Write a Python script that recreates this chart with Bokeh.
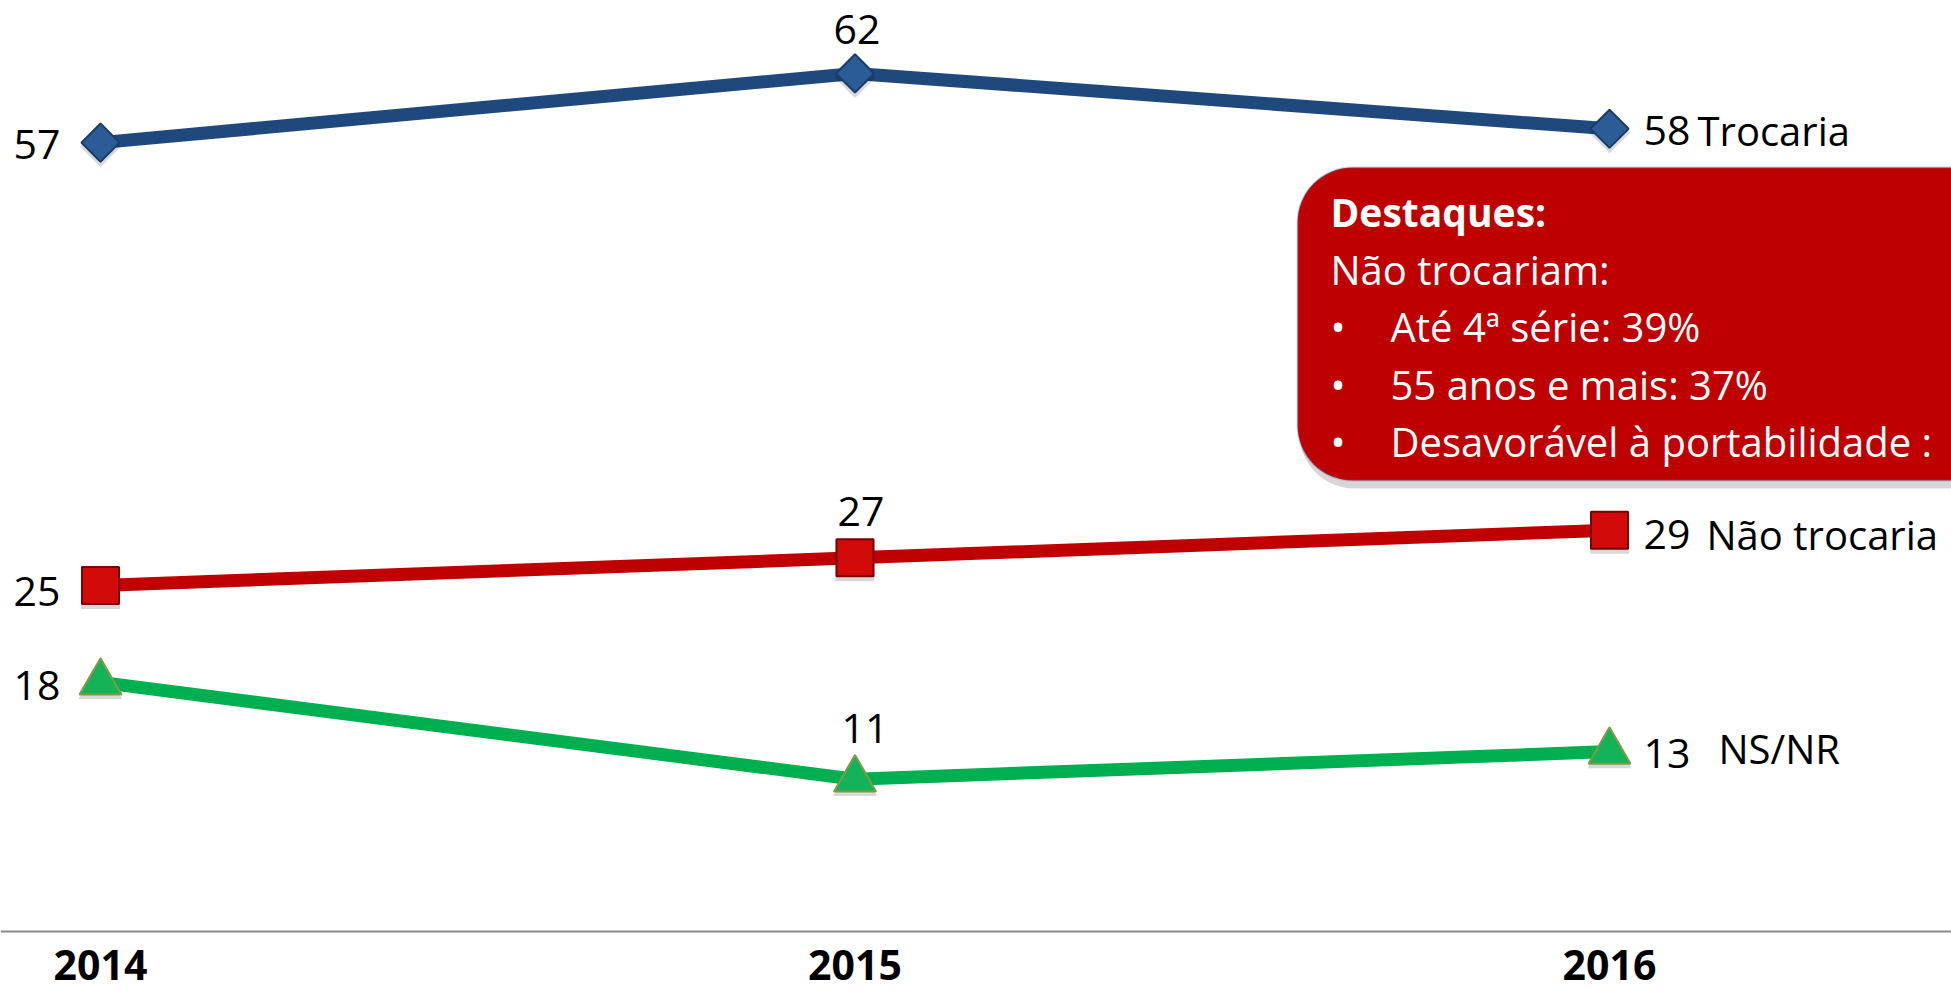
import math
from bokeh.plotting import figure
from bokeh.models import Range1d, FixedTicker, LinearAxis, BoxAnnotation, Label
from bokeh.core.properties import value
from bokeh.embed import file_html
from bokeh.resources import INLINE

# ---------------- data ----------------
years = [2014, 2015, 2016]
series_names = ["Trocaria", "Não trocaria", "NS/NR"]
trocaria = [57, 62, 58]
nao_trocaria = [25, 27, 29]
ns_nr = [18, 11, 13]
box_title = "Destaques:"
box_subtitle = "Não trocariam:"
box_bullets = ["Até 4ª série: 39%", "55 anos e mais: 37%", "Desavorável à portabilidade :"]

# ---------------- layout helpers (reference pixel -> data) ----------------
W, H = 1951, 997
PX_2014, PX_PER_YEAR = 100.0, 754.5
PY_ZERO, PX_PER_UNIT = 931.0, 13.84
TXT_DY = -14  # correction of the alphabetic baseline placement

def X(px):
    return years[0] + (px - PX_2014) / PX_PER_YEAR

def Y(py):
    return (PY_ZERO - py) / PX_PER_UNIT

FONT = "Open Sans"

p = figure(width=W, height=H, output_backend="svg", toolbar_location=None,
           x_axis_location=None, y_axis_location=None,
           x_range=Range1d(X(0), X(W)), y_range=Range1d(Y(H), Y(0)))
p.min_border_left = 0
p.min_border_right = 0
p.min_border_top = 0
p.min_border_bottom = 0
p.outline_line_color = None
p.xgrid.visible = False
p.ygrid.visible = False
p.background_fill_color = "white"
p.border_fill_color = "white"

xaxis = LinearAxis(ticker=FixedTicker(ticks=years), fixed_location=0)
xaxis.axis_line_color = "#8a8a8a"
xaxis.axis_line_width = 2
xaxis.major_tick_line_color = None
xaxis.minor_tick_line_color = None
xaxis.major_tick_out = 0
xaxis.major_tick_in = 0
xaxis.major_label_text_font = FONT
xaxis.major_label_text_font_style = "bold"
xaxis.major_label_text_font_size = "41px"
xaxis.major_label_text_color = "black"
xaxis.major_label_standoff = 18
xaxis.major_label_overrides = {y: str(y) for y in years}
p.add_layout(xaxis, "below")

series = [trocaria, nao_trocaria, ns_nr]
line_colors = ["#1F497D", "#C00000", "#00B050"]
markers = ["square", "square", "triangle"]
marker_angles = [math.pi / 4, 0, 0]
marker_sizes = [27, 37, 42]
marker_fills = ["#2C5C96", "#D20A0A", "#14B35A"]
marker_lines = ["#1B3C68", "#7A0000", "#7F9B45"]
first_dy = [16, 20, 17]
mid_dx = [2, 6, 10]
mid_dy = [-30, -32, -37]
end_dy = [16, 18, 16]
name_dx = [88, 97, 109]
name_dy = [16, 18, 11]

for vals, lc in zip(series, line_colors):
    p.line(years, vals, line_color=lc, line_width=13, line_join="round")

for i, vals in enumerate(series):
    # soft shadow
    p.scatter(years, [v - 4 / PX_PER_UNIT for v in vals], marker=markers[i],
              angle=marker_angles[i], size=marker_sizes[i] + 2, fill_color="black",
              fill_alpha=0.15, line_color=None)
    p.scatter(years, vals, marker=markers[i], angle=marker_angles[i], size=marker_sizes[i],
              fill_color=marker_fills[i], line_color=marker_lines[i], line_width=2)

lab_font = value(FONT)
for i, vals in enumerate(series):
    p.text([years[0]], [vals[0]], text=[str(vals[0])], text_align="right",
           text_baseline="alphabetic", x_offset=-40, y_offset=first_dy[i] + TXT_DY,
           text_font=lab_font, text_font_size="41px", text_color="black")
    p.text([years[1]], [vals[1]], text=[str(vals[1])], text_align="center",
           text_baseline="alphabetic", x_offset=mid_dx[i], y_offset=mid_dy[i] + TXT_DY,
           text_font=lab_font, text_font_size="41px", text_color="black")
    p.text([years[2]], [vals[2]], text=[str(vals[2])], text_align="left",
           text_baseline="alphabetic", x_offset=34, y_offset=end_dy[i] + TXT_DY,
           text_font=lab_font, text_font_size="41px", text_color="black")
    p.text([years[2]], [vals[2]], text=[series_names[i]], text_align="left",
           text_baseline="alphabetic", x_offset=name_dx[i], y_offset=name_dy[i] + TXT_DY,
           text_font=lab_font, text_font_size="40px", text_color="black")

# callout box
shadow = BoxAnnotation(left=X(1299), right=X(2150), top=Y(172), bottom=Y(488),
                       fill_color="black", fill_alpha=0.16, line_color=None,
                       border_radius=55)
box = BoxAnnotation(left=X(1297), right=X(2150), top=Y(167), bottom=Y(480),
                    fill_color="#BF0000", fill_alpha=1.0, line_color="#4F81BD",
                    line_width=2, border_radius=55)
p.add_layout(shadow)
p.add_layout(box)

p.add_layout(Label(x=X(1330), y=Y(225), y_offset=-TXT_DY, text=box_title, text_font=FONT,
                   text_font_style="bold", text_font_size="39px", text_color="white",
                   text_baseline="alphabetic"))
p.add_layout(Label(x=X(1330), y=Y(283), y_offset=-TXT_DY, text=box_subtitle, text_font=FONT,
                   text_font_size="40px", text_color="white", text_baseline="alphabetic"))
bullet_baselines = [340, 398, 455]
for t, by in zip(box_bullets, bullet_baselines):
    p.add_layout(Label(x=X(1330), y=Y(by), y_offset=-TXT_DY, text="•", text_font=FONT,
                       text_font_size="40px", text_color="white", text_baseline="alphabetic"))
    p.add_layout(Label(x=X(1390), y=Y(by), y_offset=-TXT_DY, text=t, text_font=FONT,
                       text_font_size="40px", text_color="white", text_baseline="alphabetic"))

open("out.html", "w").write(file_html(p, INLINE))
